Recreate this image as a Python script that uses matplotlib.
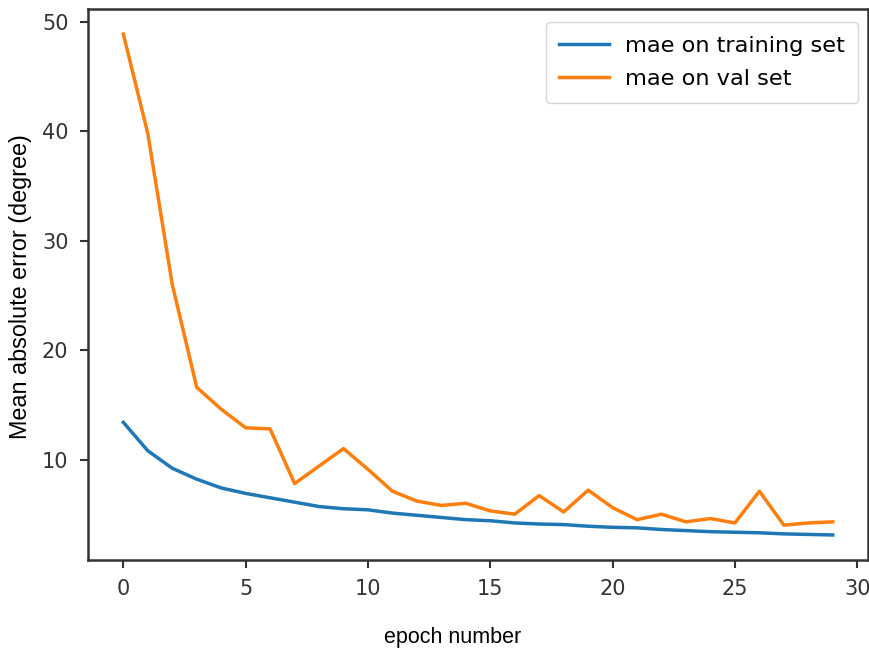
import matplotlib
matplotlib.use("Agg")
import matplotlib.pyplot as plt
import numpy as np

# mae per epoch
epochs = np.arange(30)
mae_train = [13.4, 10.8, 9.2, 8.2, 7.4, 6.9, 6.5, 6.1, 5.7, 5.5,
             5.4, 5.1, 4.9, 4.7, 4.5, 4.4, 4.2, 4.1, 4.05, 3.9,
             3.8, 3.75, 3.6, 3.5, 3.4, 3.35, 3.3, 3.2, 3.15, 3.1]
mae_val = [48.9, 39.8, 26.0, 16.6, 14.6, 12.9, 12.8, 7.8, 9.4, 11.0,
           9.1, 7.1, 6.2, 5.8, 6.0, 5.3, 5.0, 6.7, 5.2, 7.2,
           5.6, 4.5, 5.0, 4.3, 4.6, 4.2, 7.1, 4.0, 4.2, 4.3]
labels = ["mae on training set", "mae on val set"]

fig = plt.figure(figsize=(8.7, 6.53), dpi=100)
ax = fig.add_axes([0.101, 0.1424, 0.897, 0.8437])

ax.plot(epochs, mae_train, color="#1f77b4", lw=2.5, label=labels[0])
ax.plot(epochs, mae_val, color="#ff7f0e", lw=2.5, label=labels[1])

ax.set_xticks([0, 5, 10, 15, 20, 25, 30])
ax.set_yticks([10, 20, 30, 40, 50])
ax.tick_params(labelsize=15, length=6, width=1.5, colors="#333333", pad=8)
for s in ax.spines.values():
    s.set_linewidth(1.8)
    s.set_color("#333333")

ax.set_xlabel("epoch number", fontsize=15.5, family="Liberation Sans")
ax.xaxis.set_label_coords(0.467, -0.122)
ax.set_ylabel("Mean absolute error (degree)", fontsize=16.8, family="Liberation Sans")
ax.yaxis.set_label_coords(-0.071, 0.497)

leg = ax.legend(loc="upper right", fontsize=16.2, frameon=True, handlelength=2.2,
                handletextpad=0.7, labelspacing=0.6, borderpad=0.6,
                borderaxespad=0, bbox_to_anchor=(0.987, 0.976))
leg.get_frame().set_edgecolor("#cccccc")

fig.savefig("out.png", dpi=100)
